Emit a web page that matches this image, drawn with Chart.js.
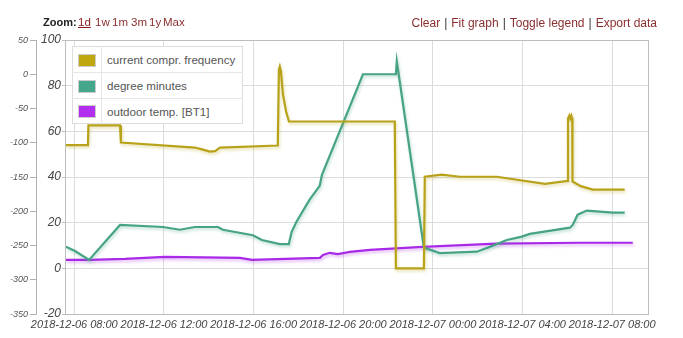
<!DOCTYPE html>
<html>
<head>
<meta charset="utf-8">
<script src="https://cdn.jsdelivr.net/npm/chart.js@4/dist/chart.umd.min.js"></script>
<style>
  html, body { margin: 0; padding: 0; background: #fff; width: 683px; height: 338px; overflow: hidden; }
  #wrap { position: relative; width: 683px; height: 338px; }
  #chart { position: absolute; left: 0; top: 0; }
  .bar { position: absolute; top: 16px; font: 11.5px "Liberation Sans", Arial, sans-serif; color: #8a2f2f; white-space: nowrap; }
  #zoom { left: 0; }
  #zoom > span, #zoom > b { position: absolute; top: 0; }
  #zoom b { left: 43px; color: #222; font-size: 11px; }
  #zoom .on { text-decoration: underline; color: #8b1c1c; }
  #tools { right: 26px; font-size: 12px; }
  #tools .sep { color: #333; margin: 0 4px; }
  #legend { position: absolute; left: 72px; top: 46px; background: #fff; border: 1px solid #ddd; border-collapse: collapse;
            font: 11.6px "Liberation Sans", Arial, sans-serif; color: #555; }
  #legend td { height: 25px; border-bottom: 1px solid #e6e6e6; padding: 0; }
  #legend tr:last-child td { border-bottom: none; height: 24px; }
  #legend td.sw { width: 28px; border-right: 1px solid #e6e6e6; text-align: center; }
  #legend td.sw i { display: inline-block; width: 16px; height: 11px; border: 1px solid #ccc; vertical-align: middle; }
  #legend td.tx { padding: 0 7px 0 5px; }
</style>
</head>
<body>
<div id="wrap">
  <canvas id="chart" width="683" height="338"></canvas>
  <div class="bar" id="zoom"><b>Zoom:</b><span class="on" style="left:78px">1d</span><span style="left:95px">1w</span><span style="left:112px">1m</span><span style="left:131px">3m</span><span style="left:149px">1y</span><span style="left:163px">Max</span></div>
  <div class="bar" id="tools">Clear<span class="sep">|</span>Fit graph<span class="sep">|</span>Toggle legend<span class="sep">|</span>Export data</div>
  <table id="legend"></table>
</div>
<script>
// Hours counted from 2018-12-06 08:00
const tickHours  = [0, 4, 8, 12, 16, 20, 24];
const tickLabels = ['2018-12-06 08:00', '2018-12-06 12:00', '2018-12-06 16:00', '2018-12-06 20:00',
                    '2018-12-07 00:00', '2018-12-07 04:00', '2018-12-07 08:00'];

const seriesNames = ['current compr. frequency', 'degree minutes', 'outdoor temp. [BT1]'];

// current compressor frequency (Hz), inner left axis
const freqHours  = [-0.37, 0.61, 0.63, 2.04, 2.08, 5.38, 5.74, 6.05, 6.28, 6.5, 9.08, 9.13, 9.17, 9.22, 9.31, 9.45, 9.58,
                    14.3, 14.35, 15.6, 15.64, 16.4, 17.2, 18.85, 21.0, 22.02, 22.03, 22.09, 22.13, 22.18, 22.22, 22.23,
                    22.33, 22.6, 23.14, 24.56];
const freqValues = [54, 54, 62.6, 62.6, 55.1, 52.9, 52, 51.1, 51.3, 52.9, 53.8, 87.1, 88.4, 86.3, 76.2, 68.7, 64.3,
                    64.3, 0, 0, 40.1, 41, 40.1, 40.1, 37, 38.3, 65.6, 66.9, 65.6, 66.9, 65.6, 38,
                    37.5, 36, 34.5, 34.5];

// degree minutes, outer left axis
const dmHours  = [-0.37, 0.03, 0.66, 2.04, 3.96, 4.71, 5.38, 6.41, 6.63, 7.97, 8.37, 9.17, 9.57, 9.7, 9.92, 10.5,
                  10.95, 11.05, 12.88, 14.35, 14.39, 15.6, 16.31, 17.96, 18.54, 19.3, 19.97, 20.33, 22.11, 22.24,
                  22.46, 22.87, 24.03, 24.56];
const dmValues = [-252, -258, -271, -220, -223, -227, -223, -223, -227, -235, -242, -248, -248, -230, -215, -183,
                  -163, -147, 0, 0, 19, -253, -261, -259, -252, -242, -237, -233, -224, -220,
                  -205, -199, -202, -202];

// outdoor temperature BT1 (°C), inner left axis
const tempHours  = [-0.37, 0.7, 2.26, 4.05, 7.39, 7.93, 10.96, 11.1, 11.4, 11.76, 12.3, 13.19, 15.55, 18.85, 22.56, 24.92];
const tempValues = [3.7, 3.7, 4.1, 5.0, 4.6, 3.7, 4.6, 5.9, 6.8, 6.2, 7.2, 8.1, 9.4, 10.8, 11.2, 11.2];

const colors  = ['#b8a21a', '#47a385', '#a82ae6'];
const shadows = ['rgba(184,162,26,0.35)', 'rgba(71,163,133,0.35)', 'rgba(168,42,230,0.35)'];
const swatches = ['#bfa70f', '#44a68a', '#b22ff0'];

const pts = (xs, ys) => xs.map((x, i) => ({ x, y: ys[i] }));

// soft drop shadow under each line
const lineShadow = {
  id: 'lineShadow',
  beforeDatasetDraw(chart, args) {
    const ctx = chart.ctx;
    ctx.save();
    ctx.shadowColor = shadows[args.index];
    ctx.shadowBlur = 3;
    ctx.shadowOffsetX = 1;
    ctx.shadowOffsetY = 2;
  },
  afterDatasetDraw(chart) { chart.ctx.restore(); }
};

// frame around the plotting area
const frame = {
  id: 'frame',
  afterDraw(chart) {
    const { ctx, chartArea: a } = chart;
    ctx.save();
    ctx.strokeStyle = '#bdbdbd';
    ctx.lineWidth = 1;
    ctx.strokeRect(Math.round(a.left) + 0.5, Math.round(a.top) + 0.5,
                   Math.round(a.right - a.left), Math.round(a.bottom - a.top));
    ctx.restore();
  }
};

const chart = new Chart(document.getElementById('chart'), {
  type: 'line',
  data: {
    datasets: [
      { label: seriesNames[0], data: pts(freqHours, freqValues), yAxisID: 'y',  borderColor: colors[0] },
      { label: seriesNames[1], data: pts(dmHours, dmValues),     yAxisID: 'y1', borderColor: colors[1] },
      { label: seriesNames[2], data: pts(tempHours, tempValues), yAxisID: 'y',  borderColor: colors[2] }
    ]
  },
  options: {
    responsive: false,
    animation: false,
    devicePixelRatio: 1,
    layout: { padding: { top: 40, right: 35, bottom: 0, left: 0 } },
    elements: {
      line: { borderWidth: 2.2, tension: 0, fill: false },
      point: { radius: 0, hoverRadius: 0 }
    },
    plugins: { legend: { display: false }, tooltip: { enabled: false } },
    scales: {
      x: {
        type: 'linear',
        min: -0.415,
        max: 25.6,
        afterBuildTicks: s => { s.ticks = tickHours.map(v => ({ value: v })); },
        afterFit: s => { s.height = 24; },
        ticks: {
          autoSkip: false, maxRotation: 0, padding: 4,
          color: '#444',
          font: { family: '"Liberation Sans", Arial, sans-serif', size: 11, style: 'italic' },
          callback: v => tickLabels[tickHours.indexOf(v)]
        },
        grid: { color: '#dcdcdc', drawTicks: false },
        border: { display: false }
      },
      y: {
        position: 'left',
        weight: 0,
        min: -20,
        max: 100,
        afterBuildTicks: s => { s.ticks = [-20, 0, 20, 40, 60, 80, 100].map(v => ({ value: v })); },
        afterFit: s => { s.width = 29; },
        ticks: {
          padding: 1,
          color: '#444',
          font: { family: '"Liberation Sans", Arial, sans-serif', size: 12, style: 'italic' }
        },
        grid: { color: '#dcdcdc', tickLength: 3, tickColor: '#bdbdbd' },
        border: { display: false }
      },
      y1: {
        position: 'left',
        weight: 1,
        min: -350,
        max: 50,
        afterBuildTicks: s => { s.ticks = [-350, -300, -250, -200, -150, -100, -50, 0, 50].map(v => ({ value: v })); },
        afterFit: s => { s.width = 36; },
        ticks: {
          padding: 2,
          color: '#555',
          font: { family: '"Liberation Sans", Arial, sans-serif', size: 9, style: 'italic' }
        },
        grid: { drawOnChartArea: false, tickLength: 6, color: '#b0b0b0' },
        border: { display: true, color: '#b0b0b0' }
      }
    }
  },
  plugins: [lineShadow, frame]
});

// legend rows built from the chart's datasets
const legend = document.getElementById('legend');
chart.data.datasets.forEach((ds, i) => {
  const tr = document.createElement('tr');
  const sw = document.createElement('td');
  sw.className = 'sw';
  const box = document.createElement('i');
  box.style.background = swatches[i];
  sw.appendChild(box);
  const tx = document.createElement('td');
  tx.className = 'tx';
  tx.textContent = ds.label;
  tr.appendChild(sw);
  tr.appendChild(tx);
  legend.appendChild(tr);
});
</script>
</body>
</html>
